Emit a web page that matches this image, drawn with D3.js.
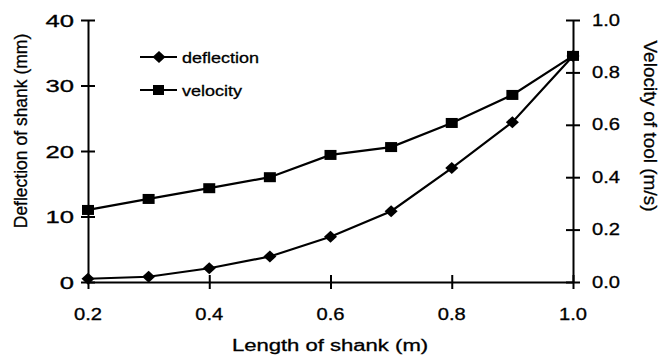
<!DOCTYPE html>
<html>
<head>
<meta charset="utf-8">
<script src="https://cdn.jsdelivr.net/npm/d3@7"></script>
<style>
  html, body { margin: 0; padding: 0; background: #fff; }
  svg { display: block; }
  text { font-family: "Liberation Sans", Arial, Helvetica, sans-serif; fill: #000; stroke: #000; stroke-width: 0.3; }
</style>
</head>
<body>
<svg id="chart" width="660" height="357"></svg>
<script>
// Shank length (m)
const lengths = [0.2, 0.3, 0.4, 0.5, 0.6, 0.7, 0.8, 0.9, 1.0];
// Deflection of shank (mm)
const deflection = [0.5, 0.8, 2.1, 3.9, 6.9, 10.8, 17.4, 24.4, 34.5];
// Velocity of tool (m/s)
const velocity = [0.275, 0.317, 0.358, 0.40, 0.485, 0.515, 0.607, 0.714, 0.863];

const xTicks = [0.2, 0.4, 0.6, 0.8, 1.0];
const leftTicks = [0, 10, 20, 30, 40];
const rightTicks = [0, 0.2, 0.4, 0.6, 0.8, 1.0];

const svg = d3.select("#chart");
const plotL = 88, plotR = 573, plotT = 20, plotB = 282;

const x = d3.scaleLinear().domain([0.2, 1.0]).range([plotL, plotR]);
const yL = d3.scaleLinear().domain([0, 40]).range([plotB, plotT]);
const yR = d3.scaleLinear().domain([0, 1.0]).range([plotB, plotT]);

// Text with glyphs widened horizontally
function stretchedText(g, tx, ty, str, size, anchor, scale) {
  return g.append("text")
    .attr("transform", `translate(${tx},${ty}) scale(${scale},1)`)
    .attr("text-anchor", anchor)
    .attr("font-size", size)
    .text(str);
}

// Axes with ticks crossing the axis line
function crossAxis(axisGen, tx, ty) {
  const g = svg.append("g").attr("transform", `translate(${tx},${ty})`)
    .call(axisGen.tickSizeInner(7).tickSizeOuter(0).tickFormat(""));
  g.select(".domain").attr("stroke", "#000").attr("stroke-width", 2);
  g.selectAll(".tick line").attr("stroke", "#000").attr("stroke-width", 2);
  return g;
}

const gx = crossAxis(d3.axisBottom(x).tickValues(xTicks), 0, plotB);
gx.selectAll(".tick line").attr("y1", -7);
const gl = crossAxis(d3.axisLeft(yL).tickValues(leftTicks), plotL, 0);
gl.selectAll(".tick line").attr("x1", 7);
const gr = crossAxis(d3.axisRight(yR).tickValues(rightTicks), plotR, 0);
gr.selectAll(".tick line").attr("x1", -7);

// Tick labels
const labels = svg.append("g");
xTicks.forEach(v => stretchedText(labels, x(v), 320, d3.format(".1f")(v), 16, "middle", 1.26));
leftTicks.forEach(v => stretchedText(labels, 74, yL(v) + 6.5, String(v), 16, "end", 1.6));
rightTicks.forEach(v => stretchedText(labels, 592, yR(v) + 5.5, d3.format(".1f")(v), 16, "start", 1.26));

// Axis titles
stretchedText(svg, 330, 351, "Length of shank (m)", 16, "middle", 1.38);
svg.append("text")
  .attr("transform", "translate(27,131) rotate(-90)")
  .attr("text-anchor", "middle").attr("font-size", 17.5)
  .text("Deflection of shank (mm)");
svg.append("text")
  .attr("transform", "translate(644,126) rotate(90)")
  .attr("text-anchor", "middle").attr("font-size", 19)
  .text("Velocity of tool (m/s)");

// Series lines
const lineDef = d3.line().x((d, i) => x(lengths[i])).y(d => yL(d));
const lineVel = d3.line().x((d, i) => x(lengths[i])).y(d => yR(d));
svg.append("path").datum(deflection).attr("d", lineDef)
  .attr("fill", "none").attr("stroke", "#000").attr("stroke-width", 2.2);
svg.append("path").datum(velocity).attr("d", lineVel)
  .attr("fill", "none").attr("stroke", "#000").attr("stroke-width", 2.2);

// Markers
const diamond = (cx, cy) => `M${cx},${cy - 6}L${cx + 6.5},${cy}L${cx},${cy + 6}L${cx - 6.5},${cy}Z`;
svg.append("g").selectAll("path").data(deflection).join("path")
  .attr("d", (d, i) => diamond(x(lengths[i]), yL(d))).attr("fill", "#000");
svg.append("g").selectAll("rect").data(velocity).join("rect")
  .attr("x", (d, i) => x(lengths[i]) - 6).attr("y", d => yR(d) - 5)
  .attr("width", 12).attr("height", 10).attr("fill", "#000");

// Legend
const legend = svg.append("g");
const legendItems = [
  { name: "deflection", y: 57, marker: "diamond" },
  { name: "velocity", y: 90, marker: "square" }
];
legendItems.forEach(it => {
  legend.append("line").attr("x1", 140).attr("x2", 177).attr("y1", it.y).attr("y2", it.y)
    .attr("stroke", "#000").attr("stroke-width", 2);
  if (it.marker === "diamond") {
    legend.append("path").attr("d", diamond(159, it.y)).attr("fill", "#000");
  } else {
    legend.append("rect").attr("x", 153).attr("y", it.y - 5).attr("width", 11).attr("height", 10).attr("fill", "#000");
  }
  stretchedText(legend, 182, it.y + 6, it.name, 15, "start", 1.2);
});
</script>
</body>
</html>
